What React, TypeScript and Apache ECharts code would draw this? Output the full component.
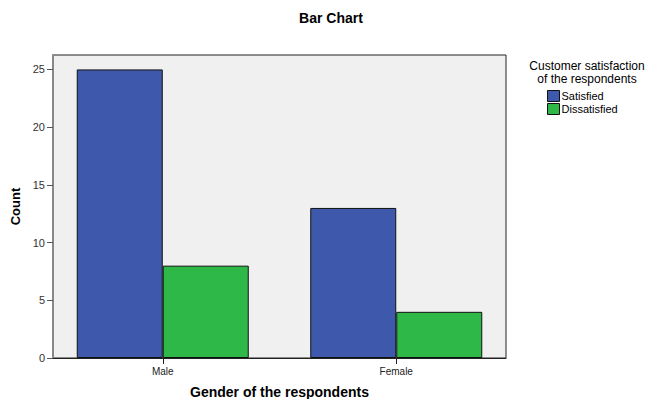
import React, { useEffect, useRef } from "react";
import * as echarts from "echarts";

const categories = ["Male", "Female"];
const satisfied = [25, 13];
const dissatisfied = [8, 4];
const yTicks = [0, 5, 10, 15, 20, 25];

export default function App() {
  const ref = useRef<HTMLDivElement>(null);
  useEffect(() => {
    if (!ref.current) return;
    const chart = echarts.init(ref.current, null, { renderer: "svg" });
    const font = "Liberation Sans, Arial, sans-serif";
    chart.setOption({
      animation: false,
      backgroundColor: "#fff",
      textStyle: { fontFamily: font },
      title: [
        {
          text: "Bar Chart",
          left: 331,
          top: 11,
          padding: 0,
          textAlign: "center",
          textStyle: { fontSize: 14, fontWeight: "bold", color: "#000", fontFamily: font },
        },
        {
          text: "Customer satisfaction\nof the respondents",
          left: 587,
          top: 59,
          padding: 0,
          textAlign: "center",
          textStyle: { fontSize: 12, fontWeight: "normal", color: "#000", lineHeight: 13, fontFamily: font },
        },
      ],
      legend: {
        orient: "vertical",
        left: 547,
        top: 90,
        padding: 0,
        itemWidth: 12,
        itemHeight: 11,
        itemGap: 1,
        icon: "rect",
        itemStyle: { borderWidth: 1, borderColor: "#111" },
        textStyle: { fontSize: 11, color: "#000", padding: [0, 0, 0, -3], fontFamily: font },
        data: ["Satisfied", "Dissatisfied"],
      },
      grid: [
        {
          left: 53,
          right: 152,
          top: 55,
          bottom: 41,
          outerBoundsMode: "none",
          containLabel: false,
          show: true,
          backgroundColor: "#F0F0F0",
          borderColor: "#222",
          borderWidth: 1,
        },
        {
          left: 46,
          right: 145,
          top: 55,
          bottom: 41,
          outerBoundsMode: "none",
          containLabel: false,
          show: false,
        },
      ],
      xAxis: [
        {
          type: "category",
          gridIndex: 0,
          data: categories,
          name: "Gender of the respondents",
          nameLocation: "middle",
          nameGap: 27,
          nameTextStyle: { fontSize: 14, fontWeight: "bold", color: "#000", fontFamily: font },
          axisLine: { lineStyle: { color: "#222", width: 1 } },
          axisTick: { show: false },
          axisLabel: { show: false },
        },
        {
          type: "category",
          gridIndex: 1,
          data: categories,
          axisLine: { show: false },
          axisTick: { show: true, alignWithLabel: true, length: 6, lineStyle: { color: "#222" } },
          axisLabel: { fontSize: 10, color: "#222", margin: 8 },
        },
      ],
      yAxis: [
        {
          type: "value",
          gridIndex: 0,
          min: 0,
          max: 26.25,
          interval: 5,
          name: "Count",
          nameLocation: "middle",
          nameGap: 26,
          nameTextStyle: { fontSize: 13, fontWeight: "bold", color: "#000", fontFamily: font },
          axisLine: { show: true, lineStyle: { color: "#888", width: 2 } },
          axisTick: { show: true, length: 6, lineStyle: { color: "#555" }, customValues: yTicks },
          axisLabel: { fontSize: 11, color: "#333", margin: 8, customValues: yTicks },
          splitLine: { show: false },
        },
        {
          type: "value",
          gridIndex: 1,
          min: 0,
          max: 26.25,
          interval: 5,
          show: false,
          splitLine: { show: false },
        },
      ],
      series: [
        {
          name: "Satisfied",
          type: "bar",
          xAxisIndex: 1,
          yAxisIndex: 1,
          data: satisfied,
          barWidth: 86,
          barGap: "0%",
          itemStyle: { color: "#3E58AC", borderColor: "#111", borderWidth: 1 },
        },
        {
          name: "Dissatisfied",
          type: "bar",
          xAxisIndex: 1,
          yAxisIndex: 1,
          data: dissatisfied,
          barWidth: 86,
          barGap: "0%",
          itemStyle: { color: "#2EB848", borderColor: "#111", borderWidth: 1 },
        },
      ],
    });
    return () => chart.dispose();
  }, []);
  return <div ref={ref} style={{ width: 658, height: 399, position: "absolute", left: 0, top: 0 }} />;
}
